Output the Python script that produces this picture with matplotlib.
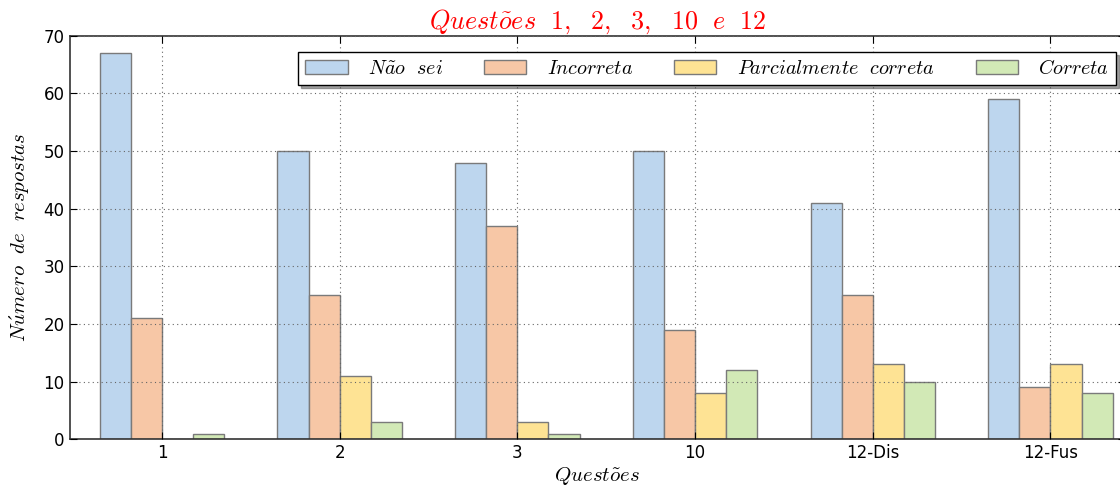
import numpy as np
import matplotlib
matplotlib.use('Agg')
import matplotlib.pyplot as plt

plt.rcParams['mathtext.fontset'] = 'cm'
plt.rcParams['font.family'] = 'DejaVu Sans'

# dados
questoes = ['1', '2', '3', '10', '12-Dis', '12-Fus']
nao_sei = [67, 50, 48, 50, 41, 59]
incorreta = [21, 25, 37, 19, 25, 9]
parcial = [0, 11, 3, 8, 13, 13]
correta = [1, 3, 1, 12, 10, 8]

series = [nao_sei, incorreta, parcial, correta]
labels = [r'$N\tilde{a}o\ \ sei$', r'$Incorreta$',
          r'$Parcialmente\ \ correta$', r'$Correta$']
colors = ['#bdd6ee', '#f7c7a6', '#fee394', '#d2e9b6']

fig = plt.figure(figsize=(11.2, 4.86), dpi=100)
ax = fig.add_axes([0.0621, 0.0961, 0.9424, 0.8304])

ind = np.arange(len(questoes))
w = 0.175
for k, (vals, lab, c) in enumerate(zip(series, labels, colors)):
    ax.bar(ind + k * w, vals, w, align='edge', color=c, edgecolor='#7a7a7a',
           linewidth=1.0, label=lab, zorder=1)

ax.set_xticks(ind + 2 * w)
ax.set_xticklabels(questoes, fontsize=12)
ax.set_xlim(-0.17, 5.77)
ax.set_ylim(0, 70)
ax.set_yticks(range(0, 71, 10))
ax.tick_params(axis='y', labelsize=12)
ax.tick_params(direction='in', top=True, right=True, length=5, width=0.8)

ax.grid(True, linestyle=(0, (1, 3)), color='0.4', linewidth=0.8, zorder=3)
ax.set_axisbelow(False)
for s in ax.spines.values():
    s.set_linewidth(1.2)
    s.set_color('#333333')

ax.set_title(r'$Quest\tilde{o}es\ \ 1,\ \ 2,\ \ 3,\ \ 10\ \ e\ \ 12$',
             color='red', fontsize=18.8, pad=5)
ax.set_xlabel(r'$Quest\tilde{o}es$', fontsize=15, labelpad=2)
ax.set_ylabel(r'$N\acute{u}mero\ \ de\ \ respostas$', fontsize=15, labelpad=8)

leg = ax.legend(loc='upper right', bbox_to_anchor=(1.001, 0.985), ncol=4,
                fontsize=14.5, shadow=True, fancybox=False, framealpha=1,
                handlelength=2.1, handletextpad=1.0, columnspacing=2.05,
                borderpad=0.35)
leg.get_frame().set_edgecolor('black')
leg.get_frame().set_linewidth(1.0)

fig.savefig('out.png', dpi=100)
